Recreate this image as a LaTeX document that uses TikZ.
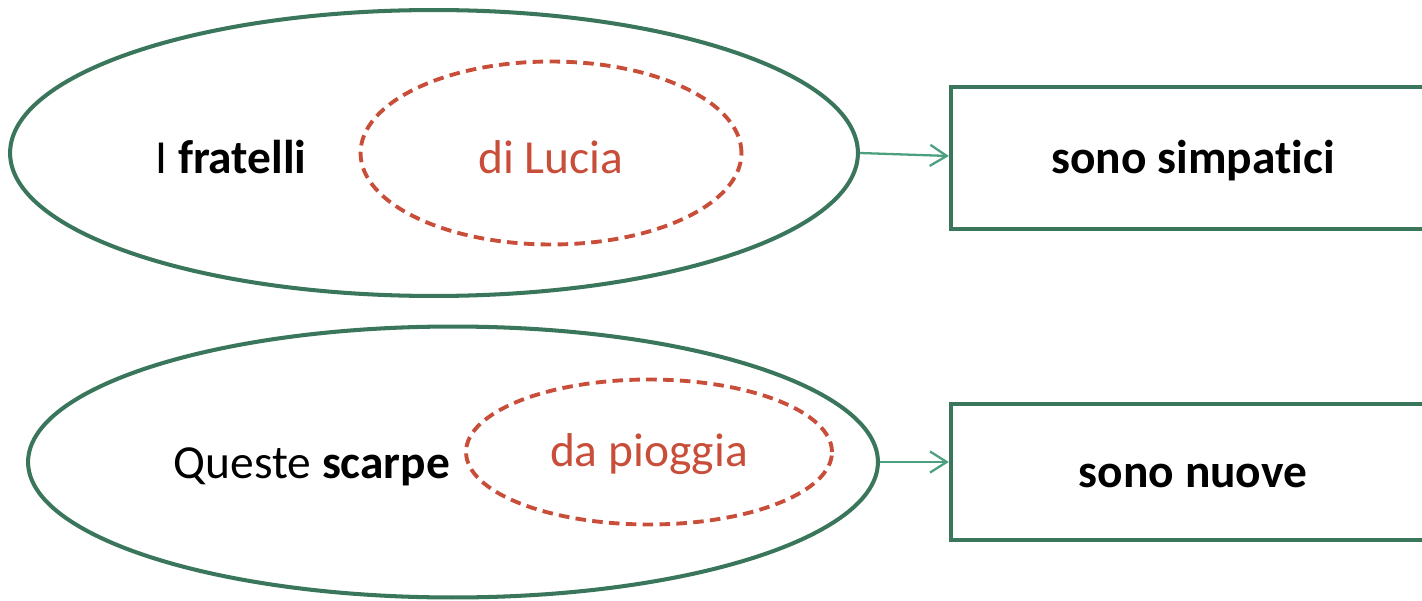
\documentclass[tikz,border=0pt]{standalone}
\usepackage{fontspec}
\setmainfont[Ligatures=NoCommon]{Carlito}
\usetikzlibrary{shapes.geometric,arrows.meta}
\definecolor{ogreen}{RGB}{58,118,92}
\definecolor{agreen}{RGB}{76,160,128}
\definecolor{dred}{RGB}{200,78,58}
\tikzset{
  outer/.style={ellipse,draw=ogreen,line width=2.3pt,inner sep=0pt},
  inner/.style={ellipse,draw=dred,line width=2.2pt,dash pattern=on 6pt off 3.6pt,inner sep=0pt},
  predbox/.style={rectangle,draw=ogreen,line width=2.5pt,inner sep=0pt,font=\fontsize{27}{32}\selectfont\bfseries},
  lbl/.style={font=\fontsize{27}{32}\selectfont,inner sep=0pt},
  rlbl/.style={lbl,text=dred},
  conn/.style={draw=agreen,line width=1.3pt,-{Straight Barb[length=9.5pt,width=12pt,line width=1.3pt]}}
}
\begin{document}
\begin{tikzpicture}[x=0.02cm,y=-0.02cm]
\useasboundingbox (0,0) rectangle (1422,601);
\clip (0,0) rectangle (1422,601);
% row 1
\node[outer,minimum width=16.96cm,minimum height=5.72cm] (e1) at (434,153) {};
\node[inner,minimum width=7.62cm,minimum height=3.66cm] (d1) at (551,153) {};
\node[lbl] (t1) at (231,157) {I \textbf{fratelli}};
\node[rlbl] (u1) at (551,157) {di Lucia};
\node[predbox,minimum width=9.68cm,minimum height=2.84cm] (r1) at (1193,158) {\raisebox{-1.5pt}[\height][\depth]{sono simpatici}};
\draw[conn] (e1.east) -- ([yshift=0.04cm]r1.west);
% row 2
\node[outer,minimum width=17.0cm,minimum height=5.42cm] (e2) at (453,462) {};
\node[inner,minimum width=7.32cm,minimum height=2.9cm] (d2) at (649,452) {};
\node[lbl] (t2) at (312,467) {Queste \textbf{scarpe}};
\node[rlbl] (u2) at (649,454) {da pioggia};
\node[predbox,minimum width=9.68cm,minimum height=2.72cm] (r2) at (1193,472) {\raisebox{-2.5pt}[\height][\depth]{sono nuove}};
\draw[conn] (e2.east) -- (e2.east -| r2.west);
\end{tikzpicture}
\end{document}
